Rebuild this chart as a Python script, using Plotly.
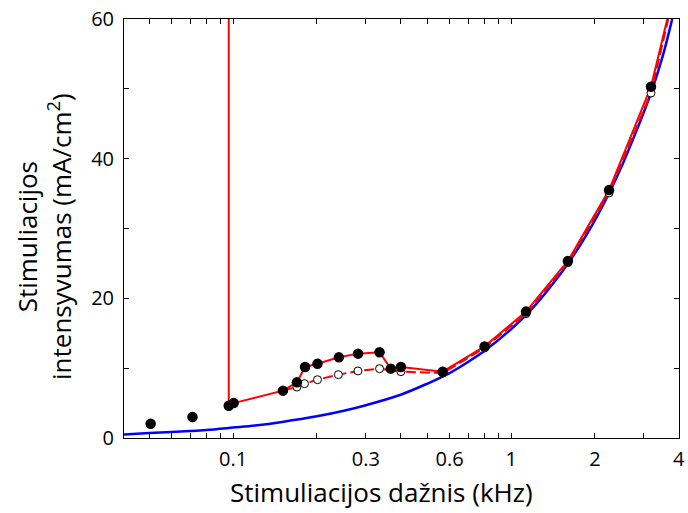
import plotly.graph_objects as go
import math

# Filled points (measured threshold, black)
fill_x = [0.0505, 0.0714, 0.0964, 0.1004, 0.151, 0.1695, 0.1814, 0.201, 0.240, 0.2813,
          0.336, 0.3686, 0.401, 0.567, 0.802, 1.13, 1.598, 2.247, 3.18]
fill_y = [2.05, 3.0, 4.63, 5.0, 6.78, 7.97, 10.17, 10.64, 11.55, 12.08,
          12.27, 9.93, 10.17, 9.5, 13.12, 18.1, 25.35, 35.5, 50.3]

# Open points
open_x = [0.1695, 0.1805, 0.201, 0.239, 0.281, 0.336, 0.401, 0.567, 0.802, 1.13, 1.598, 2.247, 3.18]
open_y = [7.3, 7.78, 8.35, 9.07, 9.6, 9.93, 9.5, 9.3, 12.9, 17.8, 25.1, 35.1, 49.4]

# Red solid curve (with vertical jump at the lower frequency limit)
red_x = [0.0964, 0.0964, 0.1004, 0.151, 0.1695, 0.1814, 0.201, 0.240, 0.2813, 0.336,
         0.3686, 0.401, 0.567, 0.802, 1.13, 1.598, 2.247, 3.18, 3.64]
red_y = [62.0, 4.63, 5.0, 6.78, 7.97, 10.17, 10.64, 11.55, 12.08, 12.27,
         9.93, 10.17, 9.5, 13.12, 18.1, 25.35, 35.5, 50.3, 60.0]

# Red dashed curve
redd_x = [0.151, 0.1695, 0.1805, 0.201, 0.239, 0.281, 0.336, 0.401, 0.567, 0.802, 1.13, 1.598, 2.247, 3.18, 3.67]
redd_y = [6.78, 7.3, 7.78, 8.35, 9.07, 9.6, 9.93, 9.5, 9.3, 12.9, 17.8, 25.1, 35.1, 49.4, 60.0]

# Blue curve
blue_x = [0.0405, 0.05, 0.06, 0.07, 0.08, 0.1, 0.12, 0.15, 0.2, 0.25, 0.3, 0.4, 0.5, 0.6,
          0.7, 0.8, 1.0, 1.2, 1.4, 1.6, 1.8, 2.0, 2.25, 2.5, 2.8, 3.18, 3.5, 3.79]
blue_y = [0.5, 0.7, 0.86, 1.0, 1.15, 1.5, 1.8, 2.3, 3.1, 3.9, 4.7, 6.2, 7.8, 9.3,
          10.9, 12.45, 15.6, 18.7, 21.9, 25.0, 28.1, 31.2, 35.1, 39.0, 43.7, 49.4, 54.6, 60.0]

x_tickvals = [0.05, 0.06, 0.07, 0.08, 0.09, 0.1, 0.2, 0.3, 0.4, 0.5, 0.6, 0.7, 0.8, 0.9, 1, 2, 3, 4]
x_ticktext = ["", "", "", "", "", "0.1", "", "0.3", "", "", "0.6", "", "", "", "1", "2", "", "4"]
y_tickvals = [0, 10, 20, 30, 40, 50, 60]
y_ticktext = ["0", "", "20", "", "40", "", "60"]

FONT = "Open Sans"

fig = go.Figure()
fig.add_trace(go.Scatter(x=blue_x, y=blue_y, mode="lines",
                         line=dict(color="#0000ff", width=2.5, shape="spline"), hoverinfo="skip"))
fig.add_trace(go.Scatter(x=redd_x, y=redd_y, mode="lines",
                         line=dict(color="#ff0000", width=2, dash="10px,4px"), hoverinfo="skip"))
fig.add_trace(go.Scatter(x=red_x, y=red_y, mode="lines",
                         line=dict(color="#ff0000", width=2), hoverinfo="skip"))
fig.add_trace(go.Scatter(x=open_x, y=open_y, mode="markers",
                         marker=dict(symbol="circle", size=8, color="white",
                                     line=dict(color="black", width=1))))
fig.add_trace(go.Scatter(x=fill_x, y=fill_y, mode="markers",
                         marker=dict(symbol="circle", size=10.5, color="black",
                                     line=dict(width=0))))

axis_common = dict(showline=True, linecolor="black", linewidth=1, mirror="ticks",
                   ticks="inside", ticklen=5, tickcolor="black", tickwidth=1,
                   showgrid=False, zeroline=False,
                   tickfont=dict(family=FONT, size=20, color="black"))

fig.update_xaxes(type="log", range=[math.log10(0.0405), math.log10(4.01)],
                 tickmode="array", tickvals=x_tickvals, ticktext=x_ticktext,
                 ticklabeloverflow="allow", ticklabelstandoff=3, **axis_common)
fig.update_yaxes(range=[0, 60], tickmode="array", tickvals=y_tickvals, ticktext=y_ticktext,
                 ticklabelstandoff=5, **axis_common)

fig.add_annotation(text="Stimuliacijos dažnis (kHz)", xref="paper", yref="paper",
                   x=0.4635, y=-0.129, xanchor="center", yanchor="middle", showarrow=False,
                   font=dict(family=FONT, size=26, color="black"))
fig.add_annotation(text="Stimuliacijos<br>intensyvumas (mA/cm<sup>2</sup>)", xref="paper", yref="paper",
                   x=-0.144, y=0.48, xanchor="center", yanchor="middle", showarrow=False,
                   textangle=-90, font=dict(family=FONT, size=26, color="black"))

fig.update_layout(width=688, height=513, margin=dict(l=124, r=3, t=19, b=75),
                  plot_bgcolor="white", paper_bgcolor="white", showlegend=False)

fig.write_html("out.html")
